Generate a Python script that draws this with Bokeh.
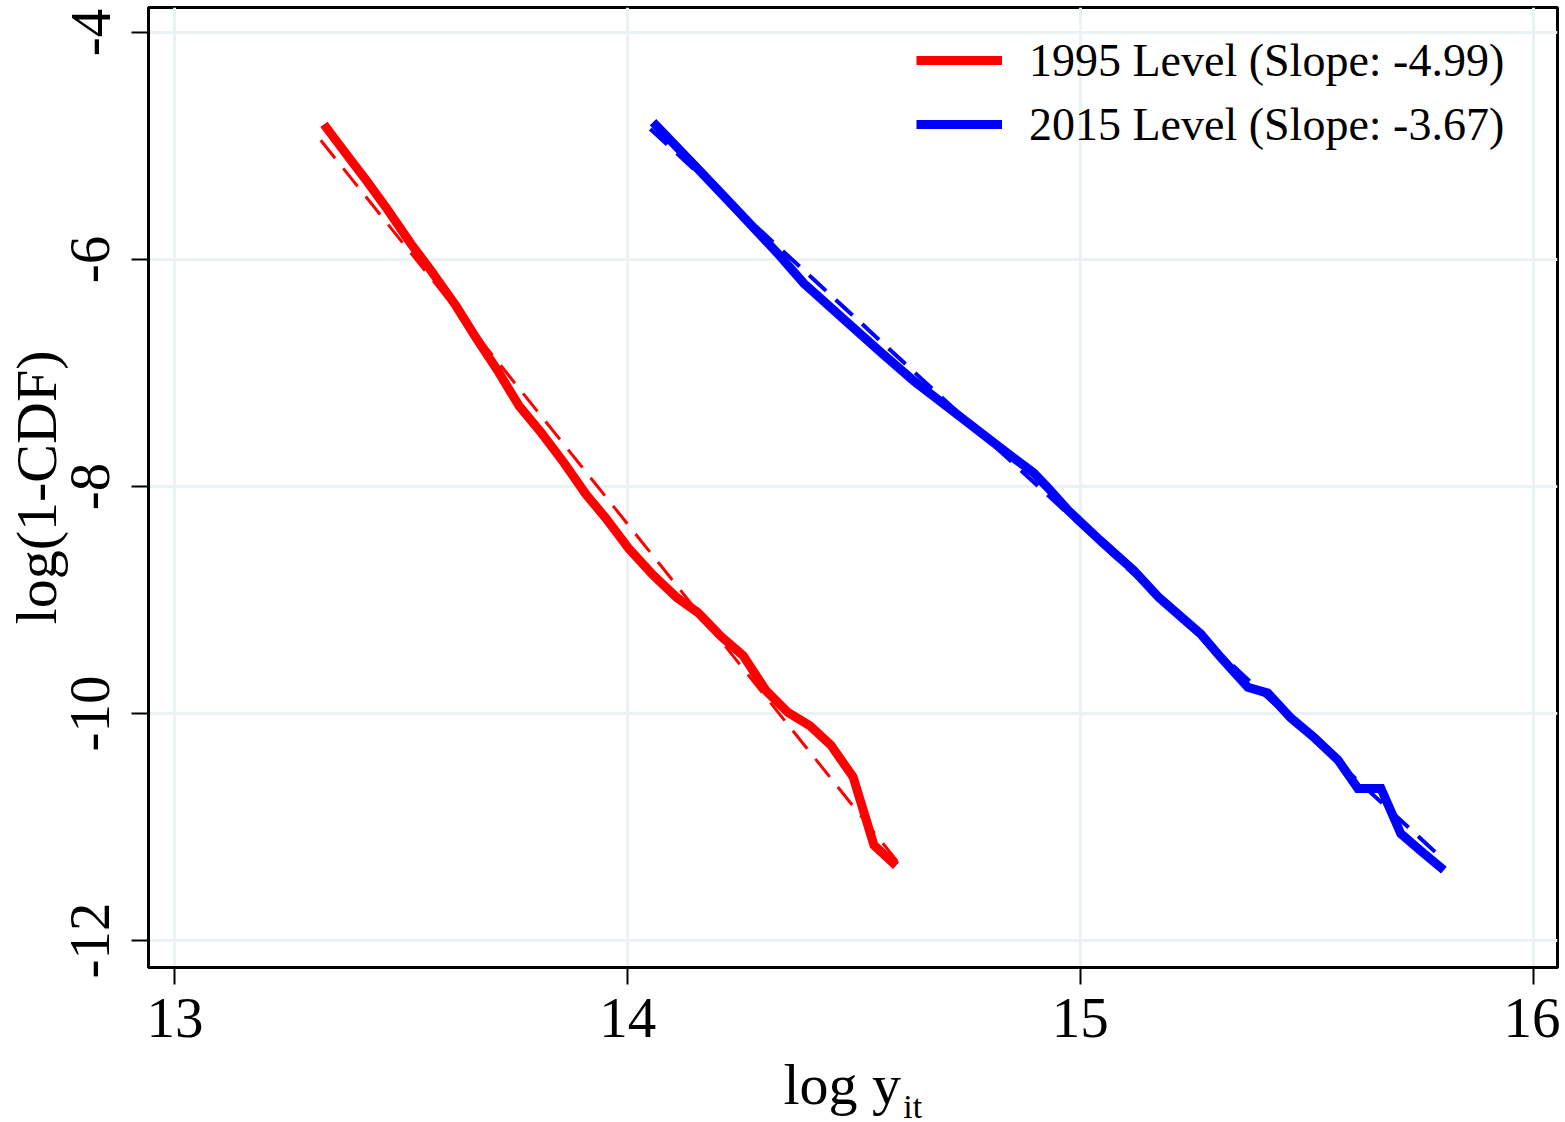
from bokeh.plotting import figure
from bokeh.layouts import column
from bokeh.models import Range1d, FixedTicker, Legend, LegendItem
from bokeh.embed import file_html
from bokeh.resources import INLINE
from bokeh.core.properties import value

# ---- data ----
x_1995 = [13.329, 13.378, 13.422, 13.466, 13.521, 13.566, 13.621, 13.665, 13.713, 13.760,
          13.808, 13.859, 13.908, 13.952, 14.003, 14.056, 14.109, 14.155, 14.206, 14.255,
          14.306, 14.354, 14.403, 14.449, 14.498, 14.544, 14.593]
y_1995 = [-4.81, -5.07, -5.30, -5.54, -5.86, -6.10, -6.41, -6.69, -6.98, -7.29,
          -7.52, -7.79, -8.07, -8.28, -8.55, -8.78, -8.98, -9.11, -9.32, -9.49,
          -9.80, -9.99, -10.11, -10.28, -10.56, -11.16, -11.34]

x_2015 = [14.056, 14.162, 14.250, 14.332, 14.389, 14.487, 14.560, 14.632, 14.736, 14.840,
          14.897, 14.928, 14.973, 15.045, 15.118, 15.174, 15.266, 15.311, 15.370, 15.414,
          15.465, 15.516, 15.569, 15.613, 15.664, 15.708, 15.752, 15.803]
y_2015 = [-4.79, -5.23, -5.60, -5.95, -6.21, -6.56, -6.82, -7.07, -7.39, -7.71,
          -7.88, -8.01, -8.21, -8.48, -8.74, -8.98, -9.30, -9.51, -9.77, -9.82,
          -10.04, -10.21, -10.41, -10.66, -10.66, -11.06, -11.21, -11.38]

fit_x_1995 = [13.322, 14.597]
fit_y_1995 = [-4.95, -11.31]
fit_x_2015 = [14.050, 15.800]
fit_y_2015 = [-4.85, -11.28]

labels = ["1995 Level (Slope: -4.99)", "2015 Level (Slope: -3.67)"]
x_ticks = [13, 14, 15, 16]
y_ticks = [-12, -10, -8, -6, -4]
y_tick_text = ["-12", "-10", "-8", "-6", "-4"]
x_title = "log y"
x_title_sub = "it"

FONT = "Liberation Serif"
W = 1560
LEFT = 148
RIGHT = 3
H_MAIN = 1061
H_STRIP = 59

p = figure(width=W, height=H_MAIN, output_backend="svg", toolbar_location=None,
           x_range=Range1d(12.9415, 16.054), y_range=Range1d(-12.238, -3.780),
           min_border_left=LEFT, min_border_right=RIGHT, min_border_top=7,
           min_border_bottom=94)

p.background_fill_color = "white"
p.border_fill_color = "white"
p.outline_line_color = "black"
p.outline_line_width = 3

# grid
p.xgrid.ticker = FixedTicker(ticks=x_ticks)
p.ygrid.ticker = FixedTicker(ticks=y_ticks)
for g in (p.xgrid, p.ygrid):
    g.grid_line_color = "#EAF2F3"
    g.grid_line_width = 3

# axes
p.xaxis.ticker = FixedTicker(ticks=x_ticks)
p.yaxis.ticker = FixedTicker(ticks=y_ticks)
p.yaxis.major_label_overrides = {t: s for t, s in zip(y_ticks, y_tick_text)}
for ax in (p.xaxis, p.yaxis):
    ax.axis_line_color = "black"
    ax.axis_line_width = 3
    ax.major_tick_line_color = "black"
    ax.major_tick_line_width = 2
    ax.major_tick_out = 17
    ax.major_tick_in = 0
    ax.minor_tick_line_color = None
    ax.major_label_text_font = FONT
    ax.major_label_text_font_size = "57px"
    ax.major_label_text_color = "black"
    ax.axis_label_text_font = FONT
    ax.axis_label_text_font_style = "normal"
    ax.axis_label_text_color = "black"

p.xaxis.major_label_standoff = 14
p.yaxis.major_label_orientation = "vertical"
p.yaxis.major_label_standoff = 22
p.yaxis.axis_label = "log(1-CDF)"
p.yaxis.axis_label_text_font_size = "58px"
p.yaxis.axis_label_standoff = 0

# lines
r1 = p.line(x_1995, y_1995, line_color="#FF0000", line_width=9, line_join="miter")
p.line(fit_x_1995, fit_y_1995, line_color="#FF0000", line_width=3, line_dash="23 13")
r2 = p.line(x_2015, y_2015, line_color="#0000FF", line_width=9, line_join="miter")
p.line(fit_x_2015, fit_y_2015, line_color="#0000FF", line_width=4, line_dash="23 13")

legend = Legend(items=[LegendItem(label=labels[0], renderers=[r1]),
                       LegendItem(label=labels[1], renderers=[r2])],
                location=(768, 811))
legend.background_fill_alpha = 0
legend.border_line_color = None
legend.label_text_font = FONT
legend.label_text_font_size = "46px"
legend.label_text_color = "black"
legend.glyph_width = 86
legend.glyph_height = 64
legend.label_height = 64
legend.label_standoff = 27
legend.spacing = 0
legend.padding = 8
legend.margin = 0
p.add_layout(legend)

# x-axis title with subscript, in a strip below the plot sharing the x range
q = figure(width=W, height=H_STRIP, output_backend="svg", toolbar_location=None,
           x_range=p.x_range, y_range=Range1d(0, H_STRIP),
           x_axis_type=None, y_axis_type=None,
           min_border_left=LEFT, min_border_right=RIGHT, min_border_top=0, min_border_bottom=0)
q.outline_line_color = None
q.grid.visible = False
q.background_fill_color = "white"
q.border_fill_color = "white"
q.text(x=[14.344], y=[36], text=[x_title], text_font=value(FONT),
       text_font_size="58px", text_color="black", text_align="left",
       text_baseline="alphabetic")
q.text(x=[14.609], y=[14], text=[x_title_sub], text_font=value(FONT),
       text_font_size="34px", text_color="black", text_align="left",
       text_baseline="alphabetic")

layout = column(p, q, spacing=0)
open("out.html", "w").write(file_html(layout, INLINE))
